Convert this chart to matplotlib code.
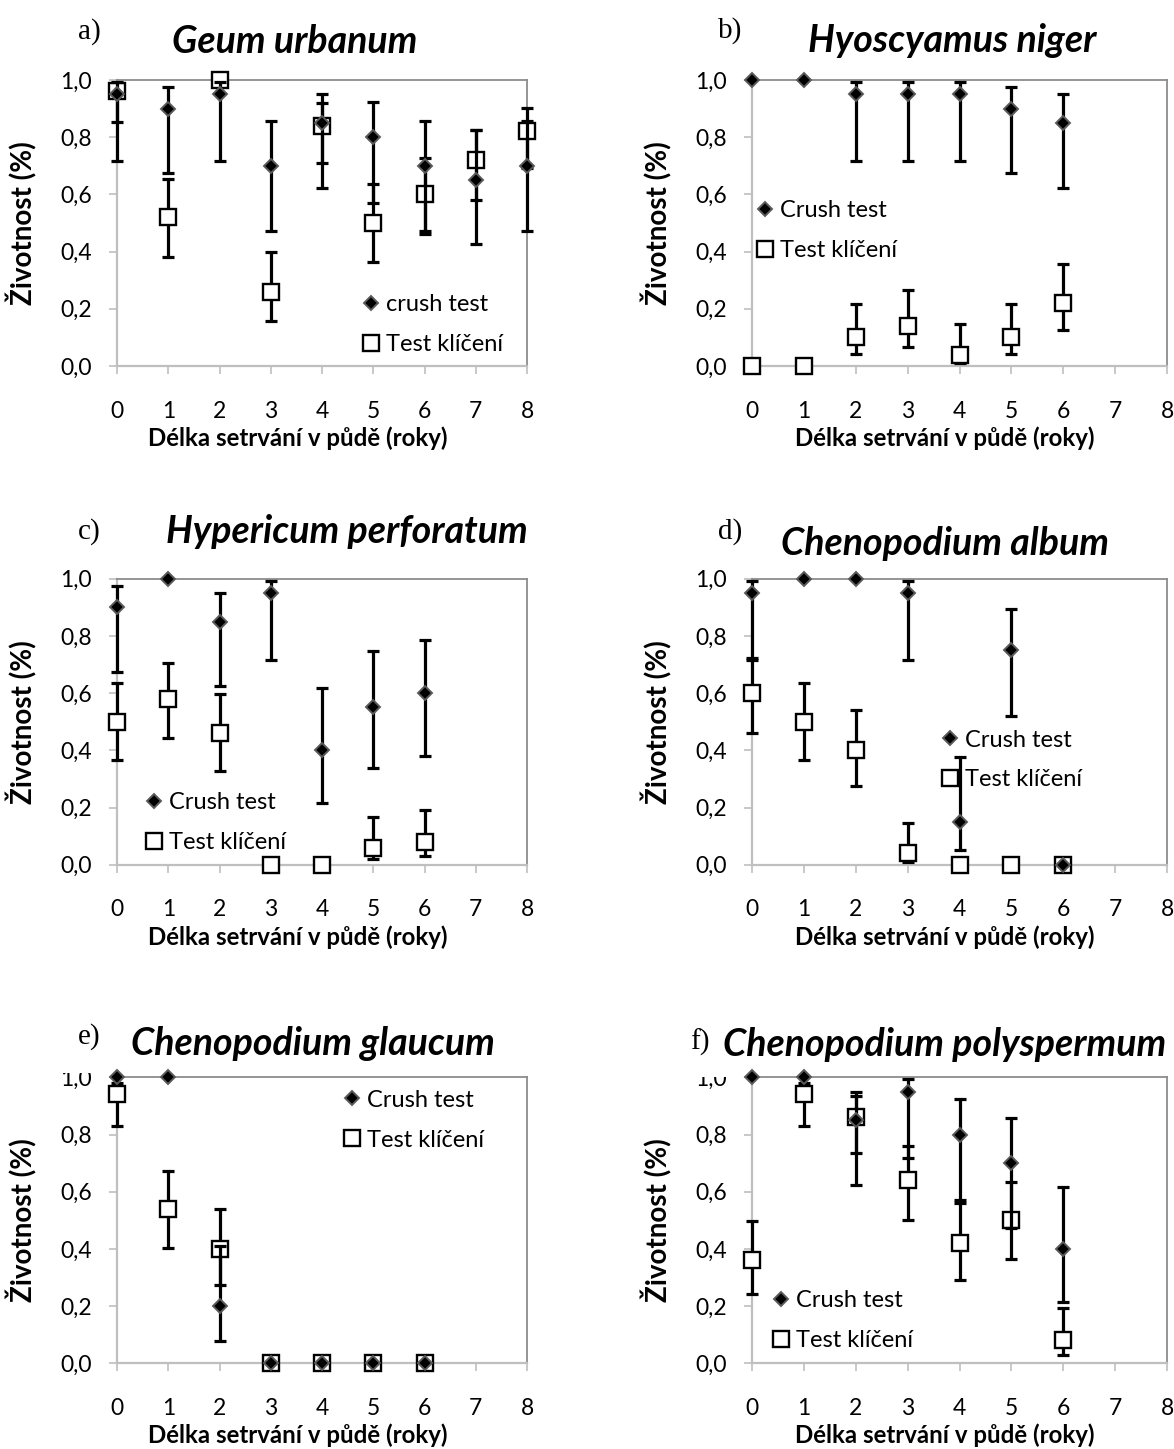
import numpy as np
import matplotlib
matplotlib.use("Agg")
import matplotlib.pyplot as plt
from matplotlib.patches import Rectangle
from matplotlib.ticker import FuncFormatter, MultipleLocator

plt.rcParams["font.family"] = ["Lato", "DejaVu Sans"]

nan = np.nan

years = [0, 1, 2, 3, 4, 5, 6, 7, 8]
year_ticks = [0, 1, 2, 3, 4, 5, 6, 7, 8]
viability_ticks = [0.0, 0.2, 0.4, 0.6, 0.8, 1.0]

series_labels = ["Crush test", "Test klíčení"]
xlabel_text = "Délka setrvání v půdě (roky)"
ylabel_text = "Životnost (%)"

# a) Geum urbanum
geum_crush = [0.95, 0.90, 0.95, 0.70, 0.85, 0.80, 0.70, 0.65, 0.70]
geum_crush_lo = [0.717, 0.676, 0.717, 0.473, 0.624, 0.571, 0.473, 0.425, 0.473]
geum_crush_hi = [0.993, 0.974, 0.993, 0.858, 0.950, 0.923, 0.858, 0.825, 0.858]
geum_germ = [0.96, 0.52, 1.00, 0.26, 0.84, 0.50, 0.60, 0.72, 0.82]
geum_germ_lo = [0.854, 0.382, nan, 0.157, 0.711, 0.365, 0.460, 0.580, 0.692]
geum_germ_hi = [0.990, 0.653, nan, 0.397, 0.918, 0.635, 0.726, 0.825, 0.903]

# b) Hyoscyamus niger
hyos_crush = [1.00, 1.00, 0.95, 0.95, 0.95, 0.90, 0.85]
hyos_crush_lo = [nan, nan, 0.717, 0.717, 0.717, 0.676, 0.624]
hyos_crush_hi = [nan, nan, 0.993, 0.993, 0.993, 0.974, 0.950]
hyos_germ = [0.00, 0.00, 0.10, 0.14, 0.04, 0.10, 0.22]
hyos_germ_lo = [nan, nan, 0.041, 0.068, 0.009, 0.041, 0.126]
hyos_germ_hi = [nan, nan, 0.218, 0.266, 0.147, 0.218, 0.355]

# c) Hypericum perforatum
hype_crush = [0.90, 1.00, 0.85, 0.95, 0.40, 0.55, 0.60]
hype_crush_lo = [0.675, nan, 0.625, 0.717, 0.214, 0.337, 0.380]
hype_crush_hi = [0.974, nan, 0.949, 0.993, 0.619, 0.746, 0.784]
hype_germ = [0.50, 0.58, 0.46, 0.00, 0.00, 0.06, 0.08]
hype_germ_lo = [0.365, 0.442, 0.329, nan, nan, 0.019, 0.029]
hype_germ_hi = [0.634, 0.706, 0.597, nan, nan, 0.168, 0.193]

# d) Chenopodium album
calb_crush = [0.95, 1.00, 1.00, 0.95, 0.15, 0.75, 0.00]
calb_crush_lo = [0.717, nan, nan, 0.717, 0.050, 0.521, nan]
calb_crush_hi = [0.993, nan, nan, 0.993, 0.375, 0.894, nan]
calb_germ = [0.60, 0.50, 0.40, 0.04, 0.00, 0.00, 0.00]
calb_germ_lo = [0.460, 0.365, 0.275, 0.010, nan, nan, nan]
calb_germ_hi = [0.724, 0.634, 0.540, 0.147, nan, nan, nan]

# e) Chenopodium glaucum
cgla_crush = [1.00, 1.00, 0.20, 0.00, 0.00, 0.00, 0.00]
cgla_crush_lo = [nan, nan, 0.078, nan, nan, nan, nan]
cgla_crush_hi = [nan, nan, 0.410, nan, nan, nan, nan]
cgla_germ = [0.94, 0.54, 0.40, 0.00, 0.00, 0.00, 0.00]
cgla_germ_lo = [0.830, 0.402, 0.275, nan, nan, nan, nan]
cgla_germ_hi = [0.979, 0.672, 0.540, nan, nan, nan, nan]

# f) Chenopodium polyspermum
cpol_crush = [1.00, 1.00, 0.85, 0.95, 0.80, 0.70, 0.40]
cpol_crush_lo = [nan, nan, 0.624, 0.717, 0.571, 0.473, 0.213]
cpol_crush_hi = [nan, nan, 0.950, 0.994, 0.923, 0.857, 0.618]
cpol_germ = [0.36, 0.94, 0.86, 0.64, 0.42, 0.50, 0.08]
cpol_germ_lo = [0.241, 0.830, 0.735, 0.500, 0.292, 0.365, 0.030]
cpol_germ_hi = [0.499, 0.979, 0.934, 0.760, 0.560, 0.635, 0.193]

species = ["Geum urbanum", "Hyoscyamus niger", "Hypericum perforatum",
           "Chenopodium album", "Chenopodium glaucum", "Chenopodium polyspermum"]
letters = ["a)", "b)", "c)", "d)", "e)", "f)"]

# ---- layout (pixels on a 1174 x 1449 canvas) ----
W, H = 1174, 1449
fig = plt.figure(figsize=(W / 100, H / 100), dpi=100)

col_px = [(117, 410), (752, 415)]
row_top_px = [80, 578.7, 1077.3]
ax_h_px = 286

AXIS_LIGHT = "#BFBFBF"
BORDER = "#8C8C8C"


def px_axes(col, row):
    left, width = col_px[col]
    top = row_top_px[row]
    return [left / W, 1 - (top + ax_h_px) / H, width / W, ax_h_px / H]


def comma(v, pos):
    return f"{v:.1f}".replace(".", ",")


def bars(ax, x, y, lo, hi, z):
    cont = ax.errorbar(x, y, yerr=[y - lo, hi - y], fmt="none",
                       ecolor="black", elinewidth=2.3, capsize=4.6,
                       capthick=2.3, zorder=z)
    for art in list(cont.lines[1]) + list(cont.lines[2]):
        art.set_clip_on(False)
        art.set_zorder(z)


def draw_panel(ax, data, title, crush_name, legend_xy, title_x, title_dy):
    crush, c_lo, c_hi, germ, g_lo, g_hi = [np.asarray(a, dtype=float) for a in data]
    x = np.asarray(years[:len(crush)], dtype=float)

    # germination test drawn first, crush test on top of it
    bars(ax, x, germ, g_lo, g_hi, 2.7)
    sq, = ax.plot(x, germ, "s", ms=11, mfc="white", mec="black", mew=1.7,
                  zorder=3, clip_on=False, label=series_labels[1])
    bars(ax, x, crush, c_lo, c_hi, 4)
    dm, = ax.plot(x, crush, "D", ms=7.5, mfc="black", mec="#5a5a5a", mew=1.4,
                  zorder=5, clip_on=False, label=crush_name)

    ax.set_xlim(year_ticks[0], year_ticks[-1])
    ax.set_ylim(viability_ticks[0], viability_ticks[-1])
    ax.xaxis.set_major_locator(MultipleLocator(1))
    ax.set_yticks(viability_ticks)
    ax.yaxis.set_major_formatter(FuncFormatter(comma))

    for side in ("left", "bottom"):
        ax.spines[side].set_color(AXIS_LIGHT)
        ax.spines[side].set_linewidth(1.6)
    for side in ("top", "right"):
        ax.spines[side].set_color(BORDER)
        ax.spines[side].set_linewidth(1.3)

    ax.tick_params(axis="both", direction="out", length=6, width=1.2,
                   color=AXIS_LIGHT, labelsize=16.5, labelcolor="black")
    ax.tick_params(axis="y", pad=12)
    ax.tick_params(axis="x", pad=19)

    ax.set_ylabel(ylabel_text, fontsize=20, fontweight="bold", va="center")
    ax.set_xlabel(xlabel_text, fontsize=17.3, fontweight="bold", va="baseline")

    ax.text(title_x, 1 + title_dy / ax_h_px, title, transform=ax.transAxes,
            ha="center", va="baseline", fontsize=27, fontweight="bold",
            fontstyle="italic", zorder=6)

    ax.legend(handles=[dm, sq], loc="center left", bbox_to_anchor=legend_xy,
              frameon=False, fontsize=17, handlelength=1.0,
              handletextpad=0.15, borderpad=0, borderaxespad=0,
              labelspacing=0.8)


panel_data = [
    (geum_crush, geum_crush_lo, geum_crush_hi, geum_germ, geum_germ_lo, geum_germ_hi),
    (hyos_crush, hyos_crush_lo, hyos_crush_hi, hyos_germ, hyos_germ_lo, hyos_germ_hi),
    (hype_crush, hype_crush_lo, hype_crush_hi, hype_germ, hype_germ_lo, hype_germ_hi),
    (calb_crush, calb_crush_lo, calb_crush_hi, calb_germ, calb_germ_lo, calb_germ_hi),
    (cgla_crush, cgla_crush_lo, cgla_crush_hi, cgla_germ, cgla_germ_lo, cgla_germ_hi),
    (cpol_crush, cpol_crush_lo, cpol_crush_hi, cpol_germ, cpol_germ_lo, cpol_germ_hi),
]
crush_names = ["crush test"] + [series_labels[0]] * 5

legend_pos = [(0.590, 0.145), (0.003, 0.474), (0.061, 0.148),
              (0.448, 0.366), (0.544, 0.850), (0.041, 0.149)]
title_pos = [(0.434, 27), (0.482, 28), (0.561, 36),
             (0.465, 24), (0.478, 22), (0.463, 21)]
letter_px = [(89, 32), (730, 31), (89, 532), (730, 532), (89, 1037), (700, 1042)]
xlabel_center_px = [298, 945]
# white text boxes of the lower panel letters (they overlap the top tick label)
letter_box_px = {4: (50, 1008, 108, 1073), 5: (664, 1012, 736, 1077)}

for i in range(6):
    col, row = i % 2, i // 2
    ax = fig.add_axes(px_axes(col, row))
    draw_panel(ax, panel_data[i], species[i], crush_names[i],
               legend_pos[i], title_pos[i][0], title_pos[i][1])
    left, width = col_px[col]
    ax.yaxis.set_label_coords(-95 / width, 0.5)
    ax.xaxis.set_label_coords((xlabel_center_px[col] - left) / width, -80 / ax_h_px)
    if i in letter_box_px:
        x0, y0, x1, y1 = letter_box_px[i]
        ax.add_artist(Rectangle((x0 / W, 1 - y1 / H), (x1 - x0) / W, (y1 - y0) / H,
                                transform=fig.transFigure, facecolor="white",
                                edgecolor="none", zorder=2, clip_on=False))

for (lx, ly), lab in zip(letter_px, letters):
    fig.text(lx / W, 1 - ly / H, lab, ha="center", va="center", fontsize=21,
             family="Liberation Serif", zorder=4)

fig.savefig("out.png", dpi=100)
